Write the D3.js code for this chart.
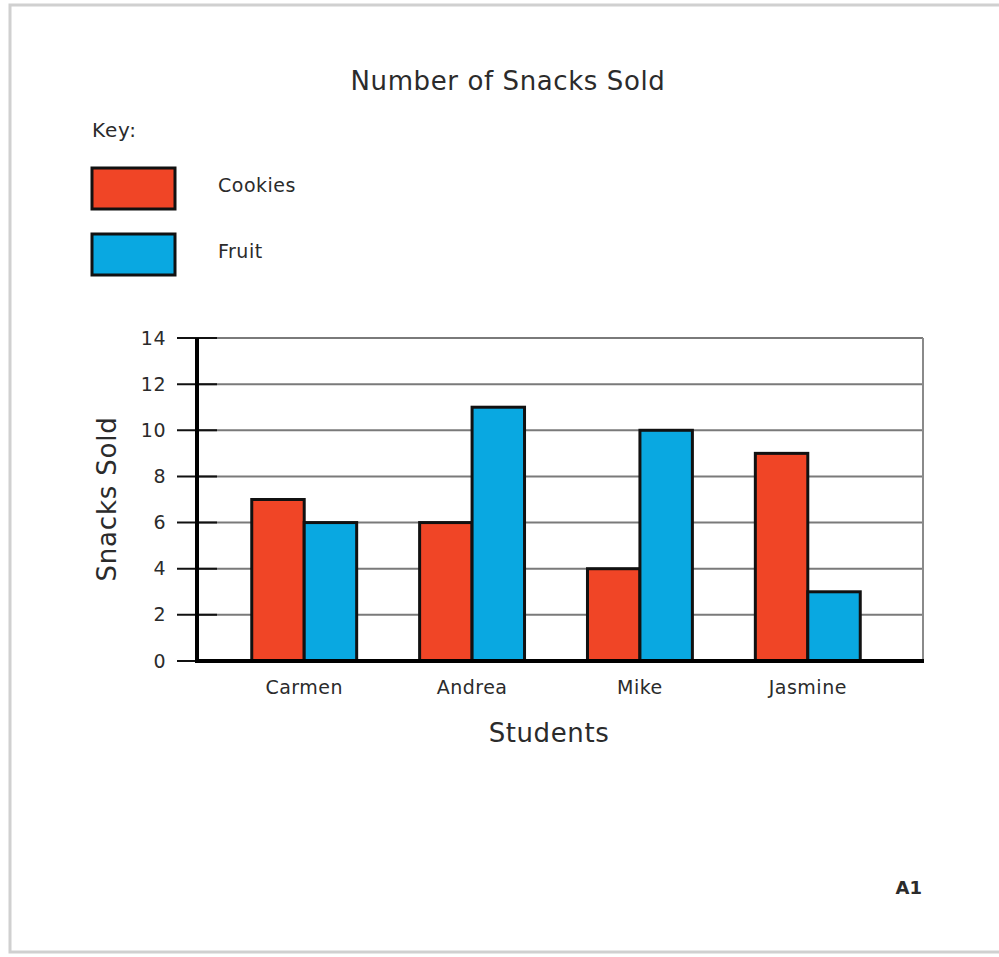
<!DOCTYPE html>
<html>
<head>
<meta charset="utf-8">
<script src="https://cdn.jsdelivr.net/npm/d3@7"></script>
<style>
  html, body { margin: 0; padding: 0; background: #fff; }
  svg { display: block; font-family: "DejaVu Sans", Verdana, sans-serif; }
</style>
</head>
<body>
<div id="chart"></div>
<script>
const students = ['Carmen', 'Andrea', 'Mike', 'Jasmine'];
const cookies = [7, 6, 4, 9];
const fruit = [6, 11, 10, 3];
const seriesNames = ['Cookies', 'Fruit'];
const yTicks = [0, 2, 4, 6, 8, 10, 12, 14];

const width = 999, height = 957;
const margin = { top: 338, right: 76, bottom: 296, left: 197 };
const colors = { Cookies: '#f04526', Fruit: '#09a8e1' };
const textColor = '#2b2b2b';

const svg = d3.select('#chart')
  .append('svg')
  .attr('width', width)
  .attr('height', height);

// page sheet with a soft edge
svg.append('rect')
  .attr('x', 10).attr('y', 5)
  .attr('width', width + 20).attr('height', 947)
  .attr('fill', '#fff')
  .attr('stroke', '#d0d0d0')
  .attr('stroke-width', 3);

svg.append('text')
  .attr('x', 508).attr('y', 90)
  .attr('text-anchor', 'middle')
  .attr('font-size', 26)
  .attr('letter-spacing', 0.6)
  .attr('fill', textColor)
  .text('Number of Snacks Sold');

// key
svg.append('text')
  .attr('x', 92).attr('y', 137)
  .attr('font-size', 20)
  .attr('letter-spacing', 0.8)
  .attr('fill', textColor)
  .text('Key:');

const key = svg.selectAll('.key')
  .data(seriesNames)
  .enter()
  .append('g')
  .attr('transform', (d, i) => `translate(92, ${168 + i * 66})`);

key.append('rect')
  .attr('width', 83).attr('height', 41)
  .attr('fill', (d) => colors[d])
  .attr('stroke', '#111')
  .attr('stroke-width', 3);

key.append('text')
  .attr('x', 126).attr('y', 24)
  .attr('font-size', 19)
  .attr('letter-spacing', 0.5)
  .attr('fill', textColor)
  .text((d) => d);

const plotW = width - margin.left - margin.right;
const plotH = height - margin.top - margin.bottom;

const g = svg.append('g')
  .attr('transform', `translate(${margin.left}, ${margin.top})`);

const x = d3.scaleBand()
  .domain(students)
  .range([0, plotW])
  .paddingInner(0.375)
  .paddingOuter(0.35)
  .align(0.466);

const xSub = d3.scaleBand()
  .domain(seriesNames)
  .range([0, x.bandwidth()]);

const y = d3.scaleLinear()
  .domain([0, 14])
  .range([plotH, 0]);

// gridlines
g.selectAll('.grid')
  .data(yTicks.slice(1))
  .enter()
  .append('line')
  .attr('x1', 0).attr('x2', plotW)
  .attr('y1', (d) => y(d)).attr('y2', (d) => y(d))
  .attr('stroke', '#7a7a7a')
  .attr('stroke-width', 2);

g.append('line')
  .attr('x1', plotW).attr('x2', plotW)
  .attr('y1', 0).attr('y2', plotH)
  .attr('stroke', '#8a8a8a')
  .attr('stroke-width', 2);

// bars
const data = students.map((s, i) => ({ student: s, Cookies: cookies[i], Fruit: fruit[i] }));

const groups = g.selectAll('.group')
  .data(data)
  .enter()
  .append('g')
  .attr('transform', (d) => `translate(${x(d.student)}, 0)`);

groups.selectAll('rect')
  .data((d) => seriesNames.map((k) => ({ key: k, value: d[k] })))
  .enter()
  .append('rect')
  .attr('x', (d) => xSub(d.key))
  .attr('y', (d) => y(d.value))
  .attr('width', xSub.bandwidth())
  .attr('height', (d) => plotH - y(d.value))
  .attr('fill', (d) => colors[d.key])
  .attr('stroke', '#111')
  .attr('stroke-width', 3);

// y axis
const yAxis = g.append('g')
  .call(d3.axisLeft(y).tickValues(yTicks).tickSize(0).tickPadding(31));
yAxis.select('.domain').remove();
yAxis.selectAll('text')
  .attr('font-size', 19)
  .attr('letter-spacing', 0.5)
  .attr('fill', textColor)
  .style('font-family', '"DejaVu Sans", Verdana, sans-serif');

g.selectAll('.ytick')
  .data(yTicks)
  .enter()
  .append('line')
  .attr('x1', -20).attr('x2', 20)
  .attr('y1', (d) => y(d)).attr('y2', (d) => y(d))
  .attr('stroke', '#111')
  .attr('stroke-width', 2);

g.append('line')
  .attr('x1', 0).attr('x2', 0)
  .attr('y1', 0).attr('y2', plotH + 2)
  .attr('stroke', '#000')
  .attr('stroke-width', 4);

// x axis
const xAxis = g.append('g')
  .attr('transform', `translate(0, ${plotH})`)
  .call(d3.axisBottom(x).tickSize(0).tickPadding(20));
xAxis.select('.domain').remove();
xAxis.selectAll('text')
  .attr('font-size', 19)
  .attr('letter-spacing', 0.5)
  .attr('fill', textColor)
  .style('font-family', '"DejaVu Sans", Verdana, sans-serif');

g.append('line')
  .attr('x1', -2).attr('x2', plotW + 1)
  .attr('y1', plotH).attr('y2', plotH)
  .attr('stroke', '#000')
  .attr('stroke-width', 4);

svg.append('text')
  .attr('x', 549).attr('y', 742)
  .attr('text-anchor', 'middle')
  .attr('font-size', 26)
  .attr('letter-spacing', 0.6)
  .attr('fill', textColor)
  .text('Students');

svg.append('text')
  .attr('transform', 'translate(116, 499) rotate(-90)')
  .attr('text-anchor', 'middle')
  .attr('font-size', 26)
  .attr('letter-spacing', 0.8)
  .attr('fill', textColor)
  .text('Snacks Sold');

svg.append('text')
  .attr('x', 922).attr('y', 894)
  .attr('text-anchor', 'end')
  .attr('font-size', 18)
  .attr('font-weight', 'bold')
  .attr('fill', textColor)
  .text('A1');
</script>
</body>
</html>
